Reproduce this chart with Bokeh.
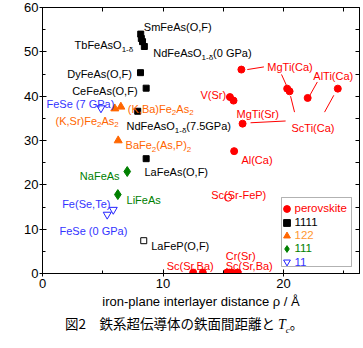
from bokeh.plotting import figure
from bokeh.layouts import column
from bokeh.models import (Range1d, LinearAxis, FixedTicker, Legend, LegendItem,
                          BoxAnnotation, ColumnDataSource, Div)
from bokeh.core.properties import value
from bokeh.embed import file_html
from bokeh.resources import INLINE

# ---------------- data ----------------
# perovskite-type blocking layers (red filled circles)
perov_x = [16.5, 20.3, 20.5, 22.0, 24.5, 15.55, 15.85, 16.6, 15.9, 12.5, 13.3, 15.3, 15.5, 15.7, 16.2]
perov_y = [46.0, 41.7, 41.1, 39.6, 41.7, 39.8, 39.0, 33.8, 27.6, 0.2, 0.2, 0.2, 0.2, 0.2, 0.2]
# perovskite, open circle (Sc(Sr-FeP))
perov_open_x = [15.4]
perov_open_y = [17.1]
# 1111 (black filled squares)
k1111_x = [8.15, 8.2, 8.3, 8.45, 8.13, 8.6, 7.9, 8.6]
k1111_y = [54.0, 53.0, 52.3, 51.2, 45.3, 41.8, 36.6, 25.9]
# 1111, open square (LaFeP(O,F))
k1111_open_x = [8.4]
k1111_open_y = [7.4]
# 122 (orange triangles)
k122_x = [6.0, 6.5, 6.28]
k122_y = [37.2, 37.6, 30.0]
# 111 (green)
k111_x = [7.03, 6.25]
k111_y = [23.0, 17.8]
# 11 (blue open inverted triangles)
k11_x = [5.87, 5.37, 4.85]
k11_y = [14.4, 13.3, 37.3]

x_ticks = [0, 10, 20]
x_minor = [5, 15, 25]
y_ticks = [0, 10, 20, 30, 40, 50, 60]
y_minor = [5, 15, 25, 35, 45, 55]

legend_names = ["perovskite", "1111", "122", "111", "11"]

# point labels: text parts (text, is_subscript), anchor (data), colour
label_parts = [
    [("SmFeAs(O,F)", 0)],
    [("TbFeAsO", 0), ("1-δ", 1)],
    [("NdFeAsO", 0), ("1-δ", 1), (" (0 GPa)", 0)],
    [("DyFeAs(O,F)", 0)],
    [("CeFeAs(O,F)", 0)],
    [("NdFeAsO", 0), ("1-δ", 1), (" (7.5GPa)", 0)],
    [("LaFeAs(O,F)", 0)],
    [("LaFeP(O,F)", 0)],
    [("(K,Ba)Fe", 0), ("2", 1), ("As", 0), ("2", 1)],
    [("(K,Sr)Fe", 0), ("2", 1), ("As", 0), ("2", 1)],
    [("BaFe", 0), ("2", 1), ("(As,P)", 0), ("2", 1)],
    [("FeSe (7 GPa)", 0)],
    [("Fe(Se,Te)", 0)],
    [("FeSe (0 GPa)", 0)],
    [("NaFeAs", 0)],
    [("LiFeAs", 0)],
    [("MgTi(Ca)", 0)],
    [("AlTi(Ca)", 0)],
    [("V(Sr)", 0)],
    [("MgTi(Sr)", 0)],
    [("ScTi(Ca)", 0)],
    [("Al(Ca)", 0)],
    [("Sc(Sr-FeP)", 0)],
    [("Cr(Sr)", 0)],
    [("Sc(Sr,Ba)", 0)],
    [("Sc(Sr,Ba)", 0)],
]
label_x = [8.41, 2.66, 9.19, 2.05, 2.46, 6.97, 8.46, 9.02, 7.08, 1.08, 6.89, 0.33, 1.63, 1.41,
           3.1, 6.97, 18.65, 22.47, 13.1, 16.1, 20.66, 16.5, 14.0, 15.2, 15.2, 10.3]
label_y = [55.6, 51.5, 49.7, 44.9, 41.1, 33.2, 22.9, 6.3, 37.2, 34.4, 28.9, 38.3, 15.6, 9.55,
           22.0, 16.5, 46.5, 44.5, 40.3, 36.0, 32.8, 25.7, 17.8, 4.06, 1.8, 1.8]

RED, BLK, ORG, GRN, BLU = "#FF0000", "#000000", "#FF6600", "#008000", "#3333FF"
label_color = [BLK] * 8 + [ORG] * 3 + [BLU] * 3 + [GRN] * 2 + [RED] * 10

# leader lines
lead_x0 = [16.99, 19.83, 20.58, 22.8, 24.17, 17.26]
lead_y0 = [46.0, 44.9, 40.0, 43.2, 40.2, 34.0]
lead_x1 = [18.37, 20.31, 20.91, 22.1, 23.4, 20.17]
lead_y1 = [46.6, 42.0, 36.4, 39.8, 36.4, 34.4]

caption_main = "図2　鉄系超伝導体の鉄面間距離と "
caption_T = "T"
caption_sub = "c"
caption_end = "。"

# ---------------- figure ----------------
FONT = "Liberation Sans"
p = figure(width=363, height=315, output_backend="svg", toolbar_location=None,
           x_range=Range1d(0, 26.3), y_range=Range1d(0, 60),
           min_border_left=42, min_border_right=4, min_border_top=7, min_border_bottom=42)
p.xgrid.visible = False
p.ygrid.visible = False
p.outline_line_color = "black"
p.background_fill_color = "white"
p.border_fill_color = "white"

xa = p.xaxis[0]
ya = p.yaxis[0]
xa.ticker = FixedTicker(ticks=x_ticks, minor_ticks=x_minor)
ya.ticker = FixedTicker(ticks=y_ticks, minor_ticks=y_minor)
for ax in (xa, ya):
    ax.axis_line_color = "black"
    ax.major_tick_line_color = "black"
    ax.minor_tick_line_color = "black"
    ax.major_tick_in = 4
    ax.major_tick_out = 3
    ax.minor_tick_in = 3
    ax.minor_tick_out = 0
    ax.major_label_text_font = FONT
    ax.major_label_text_font_size = "13px"
    ax.major_label_text_color = "black"
xa.major_label_standoff = 2
ya.major_label_standoff = 1
xa.axis_label = "iron-plane interlayer distance ρ / Å"
xa.axis_label_text_font = FONT
xa.axis_label_text_font_size = "13px"
xa.axis_label_text_font_style = "normal"
xa.axis_label_text_color = "black"
xa.axis_label_standoff = 3

top_ticks = [0, 5, 10, 15, 20, 25]
right_ticks = [0, 5, 10, 15, 20, 25, 30, 35, 40, 45, 50, 55, 60]
for place, tks in (("above", top_ticks), ("right", right_ticks)):
    ax = LinearAxis(ticker=FixedTicker(ticks=tks), major_tick_in=4, major_tick_out=0,
                    minor_tick_in=0, minor_tick_out=0, major_label_standoff=0,
                    major_label_text_font_size="0px",
                    major_label_overrides={t: "" for t in tks},
                    axis_line_color="black", major_tick_line_color="black")
    p.add_layout(ax, place)

# leader lines
p.segment(x0=lead_x0, y0=lead_y0, x1=lead_x1, y1=lead_y1, line_color=RED, line_width=1)

# markers
r_perov = p.scatter(perov_x, perov_y, marker="circle", size=7, fill_color=RED, line_color=RED)
p.scatter(perov_open_x, perov_open_y, marker="circle", size=7, fill_color=None, line_color=RED)
r_1111 = p.scatter(k1111_x, k1111_y, marker="square", size=6, fill_color=BLK, line_color=BLK)
p.scatter(k1111_open_x, k1111_open_y, marker="square", size=6, fill_color="white", line_color=BLK)
r_122 = p.scatter(k122_x, k122_y, marker="triangle", size=8, fill_color=ORG, line_color=ORG)
r_111 = p.scatter(k111_x, k111_y, marker="diamond", size=10, fill_color=GRN, line_color=GRN)
r_11 = p.scatter(k11_x, k11_y, marker="inverted_triangle", size=8, fill_color=None,
                 line_color="#2222FF", line_width=1)

# point labels, subscripts drawn as smaller offset text
W = {" ": 278, "(": 333, ")": 333, ",": 278, "-": 333, ".": 278, "δ": 556,
     "A": 667, "B": 667, "C": 722, "D": 722, "F": 611, "G": 778, "K": 667, "L": 556,
     "M": 833, "N": 722, "O": 778, "P": 667, "S": 667, "T": 611, "V": 667,
     "a": 556, "b": 556, "d": 556, "e": 556, "g": 556, "i": 222, "l": 222, "r": 333, "s": 500}
MAIN, SUB = 11.0, 8.0


def tw(s, size):
    return sum(W.get(ch, 556) for ch in s) * size / 1000.0


tx, ty, tt, txo, tyo, tc, ts = [], [], [], [], [], [], []
for parts, x, y, c in zip(label_parts, label_x, label_y, label_color):
    off = 0.0
    for text, sub in parts:
        size = SUB if sub else MAIN
        tx.append(x); ty.append(y); tt.append(text); tc.append(c)
        txo.append(off); tyo.append(4.0 if sub else 0.0); ts.append(f"{size}px")
        off += tw(text, size)
src = ColumnDataSource(dict(x=tx, y=ty, text=tt, xo=txo, yo=tyo, color=tc, size=ts))
p.text(x="x", y="y", text="text", x_offset="xo", y_offset="yo", text_color="color",
       text_font_size="size", text_font=value(FONT), text_align="left",
       text_baseline="middle", source=src)

# legend
box = BoxAnnotation(left=239, right=309, bottom=7, top=76, left_units="screen",
                    right_units="screen", top_units="screen", bottom_units="screen",
                    fill_color="white", fill_alpha=1.0, line_color="black", line_width=1)
p.add_layout(box)
leg_renderers = [r_perov, r_1111, r_122, r_111, r_11]
leg_colors = [RED, BLK, "#FF9933", GRN, BLU]
row_cy = [65, 51, 38, 25, 11.5]
for name, rr, col, cy in zip(legend_names, leg_renderers, leg_colors, row_cy):
    lg = Legend(items=[LegendItem(label=name, renderers=[rr])], location=(235.5, cy - 8.75),
                glyph_width=17, glyph_height=17, label_height=17, label_standoff=0,
                padding=0, margin=0, spacing=0, border_line_color=None,
                background_fill_alpha=0, label_text_color=col, label_text_font=FONT,
                label_text_font_size="11.5px")
    p.add_layout(lg)

# ---------------- caption ----------------
cap_html = (f"{caption_main}"
            f"<i style=\"font-family:'Liberation Serif'; font-size:14px\">{caption_T}</i>"
            f"<sub style=\"font-family:'Liberation Serif'; font-style:italic; font-size:9px\">"
            f"{caption_sub}</sub>{caption_end}")
cap = Div(text=cap_html, width=363, height=33, margin=(0, 0, 0, 0),
          styles={"font-family": "'Noto Sans CJK JP'", "font-size": "13.5px",
                  "line-height": "16px", "padding-left": "65px", "white-space": "pre",
                  "color": "black", "background-color": "white"})

layout = column(p, cap, spacing=0)
open("out.html", "w").write(file_html(layout, INLINE))
